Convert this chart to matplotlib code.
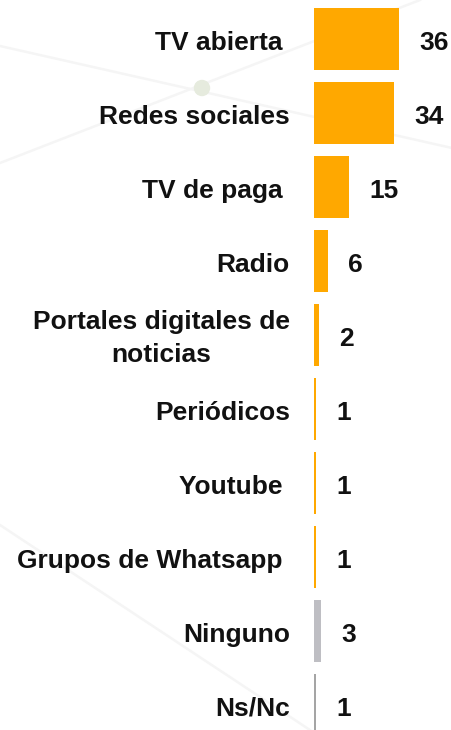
import matplotlib
matplotlib.use("Agg")
import matplotlib.pyplot as plt
from matplotlib.lines import Line2D
from matplotlib.patches import Circle

categories = ["TV abierta ", "Redes sociales", "TV de paga ", "Radio",
              "Portales digitales de\nnoticias", "Periódicos", "Youtube ",
              "Grupos de Whatsapp ", "Ninguno", "Ns/Nc"]
values = [36, 34, 15, 6, 2, 1, 1, 1, 3, 1]
colors = ["#FFA800"] * 8 + ["#BEBEC3", "#A5A5A5"]

W, H = 452, 730
fig = plt.figure(figsize=(W / 100, H / 100), dpi=100)
fig.patch.set_facecolor("white")

# faint decorative background
def px(x, y):
    return (x / W, 1 - y / H)

deco_col = "#F5F5F5"
for (x0, y0), (x1, y1) in [((0, 46), (452, 148)), ((0, 163), (420, 0)),
                           ((0, 525), (310, 730))]:
    a, b = px(x0, y0), px(x1, y1)
    fig.add_artist(Line2D([a[0], b[0]], [a[1], b[1]], transform=fig.transFigure,
                          color=deco_col, lw=1.8, zorder=0))
fig.add_artist(Circle((202, H - 88), 7.5, transform=None, color="#E6EBDE", zorder=0))

px_per_unit = 85 / 36
left_px = 314
ax = fig.add_axes([left_px / W, 0, (W - left_px) / W, 1])
ax.set_facecolor("none")
pitch, first = 74, 39
ax.set_xlim(0, (W - left_px) / px_per_unit)
ax.set_ylim((H - first) / pitch, -first / pitch)

ypos = list(range(len(categories)))
ax.barh(ypos, values, height=62 / pitch, color=colors, zorder=2)

font = dict(family=["Liberation Sans", "DejaVu Sans"], fontweight="bold", fontsize=19, color="#111111")
for i, (c, v) in enumerate(zip(categories, values)):
    base = i + (11 if "\n" not in c else 26.5) / pitch
    ax.text(-24 / px_per_unit, base, c, ha="right", va="baseline", multialignment="center",
            linespacing=1.45, clip_on=False, **font)
    ax.text(v + 20 / px_per_unit, i + 11 / pitch, str(v), ha="left", va="baseline",
            clip_on=False, **font)

ax.axis("off")
fig.savefig("out.png", dpi=100, facecolor="white")
